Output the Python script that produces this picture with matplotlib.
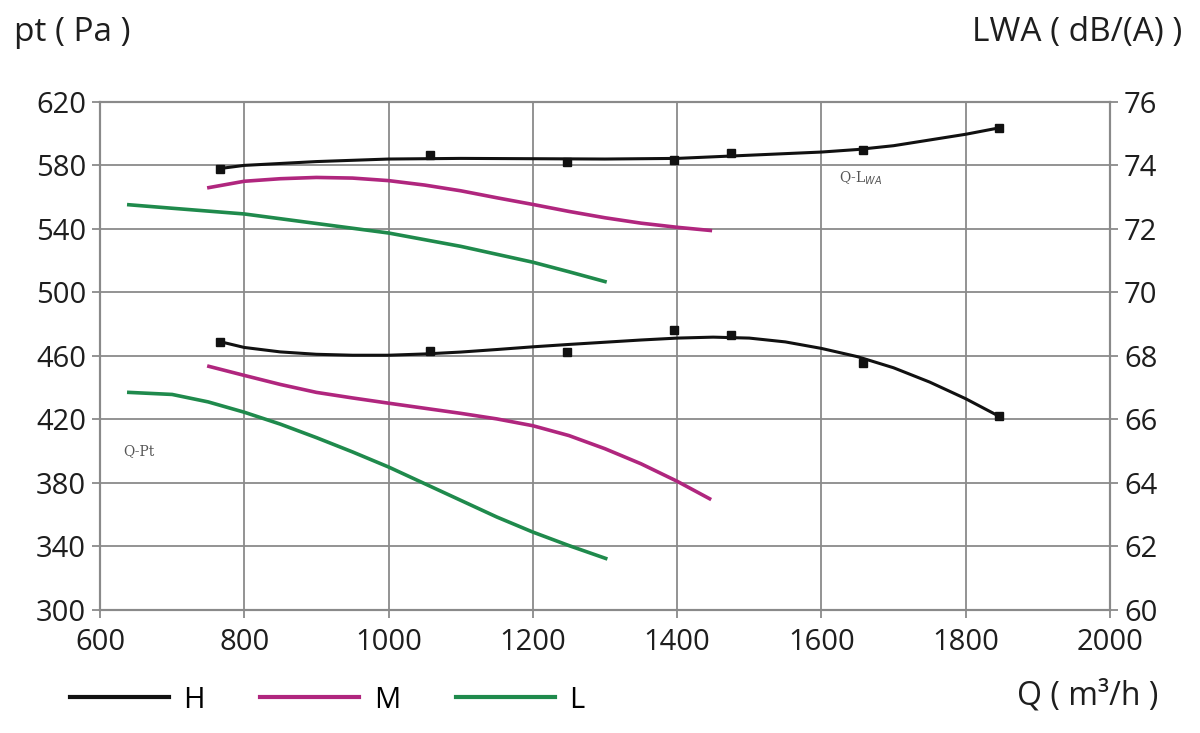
import matplotlib
matplotlib.use("Agg")
import matplotlib.pyplot as plt
from matplotlib.lines import Line2D

plt.rcParams['font.family'] = ['Open Sans', 'DejaVu Sans']

# pressure curves, Q (m3/h) vs pt (Pa)
q_pt_H = [766, 800, 850, 900, 950, 1000, 1050, 1100, 1150, 1200, 1250, 1300, 1350, 1400,
          1450, 1500, 1550, 1600, 1650, 1700, 1750, 1800, 1846]
pt_H = [469, 465.3, 462.5, 461, 460.4, 460.4, 461.2, 462.4, 464, 465.7, 467.2, 468.6, 470, 471.2,
        471.8, 471.2, 468.8, 464.7, 459.5, 452.5, 443.5, 433, 422]
q_pt_H_mark = [766, 1058, 1247, 1396, 1474, 1657, 1846]
pt_H_mark = [469, 463, 462.5, 476, 473, 455.5, 422]

q_pt_M = [751, 800, 850, 900, 950, 1000, 1050, 1100, 1150, 1200, 1250, 1300, 1350, 1400, 1445]
pt_M = [453.4, 447.7, 442, 437, 433.5, 430.2, 427, 423.8, 420.3, 416, 409.8, 401.5, 392, 381, 370]

q_pt_L = [640, 700, 750, 800, 850, 900, 950, 1000, 1050, 1100, 1150, 1200, 1250, 1301]
pt_L = [437, 435.7, 431, 424.5, 417, 408.5, 399.5, 390, 379.5, 369, 358.5, 349, 340.5, 332.4]

# noise curves, Q (m3/h) vs LWA dB(A)
q_lw_H = [766, 800, 900, 1000, 1100, 1200, 1300, 1400, 1500, 1600, 1650, 1700, 1750, 1800, 1846]
lw_H = [73.9, 74.0, 74.12, 74.2, 74.22, 74.21, 74.2, 74.22, 74.32, 74.42, 74.5, 74.62, 74.8, 74.98, 75.18]
q_lw_H_mark = [766, 1058, 1247, 1396, 1474, 1657, 1846]
lw_H_mark = [73.9, 74.34, 74.1, 74.18, 74.39, 74.5, 75.18]

q_lw_M = [751, 800, 850, 900, 950, 1000, 1050, 1100, 1150, 1200, 1250, 1300, 1350, 1400, 1446]
lw_M = [73.3, 73.5, 73.58, 73.62, 73.6, 73.52, 73.38, 73.2, 72.98, 72.77, 72.55, 72.35, 72.18, 72.05, 71.95]

q_lw_L = [640, 700, 800, 900, 1000, 1100, 1200, 1250, 1300]
lw_L = [72.76, 72.65, 72.47, 72.17, 71.87, 71.45, 70.95, 70.65, 70.34]

pt_ticks = [300, 340, 380, 420, 460, 500, 540, 580, 620]
lw_ticks = [60, 62, 64, 66, 68, 70, 72, 74, 76]
q_ticks = [600, 800, 1000, 1200, 1400, 1600, 1800, 2000]

c_H = "#111111"
c_M = "#b0267e"
c_L = "#1f8a4c"
grid_c = "#8a8a8a"
txt_c = "#1e1e1e"

fig = plt.figure(figsize=(12, 7.33), dpi=100)
ax = fig.add_axes([0.0833, 0.168, 0.8417, 0.693])
ax2 = ax.twinx()

ax.set_xlim(600, 2000)
ax.set_ylim(300, 620)
ax2.set_ylim(60, 76)
ax.set_xticks(q_ticks)
ax.set_yticks(pt_ticks)
ax2.set_yticks(lw_ticks)

ax.grid(True, color=grid_c, lw=1.3)
ax.set_axisbelow(True)
for a in (ax, ax2):
    for s in a.spines.values():
        s.set_color(grid_c)
        s.set_linewidth(1.5)
    a.tick_params(labelsize=21, colors=grid_c, labelcolor=txt_c, length=6, width=1.3, pad=4)
ax.tick_params(axis="x", pad=7)

ax.plot(q_pt_H, pt_H, color=c_H, lw=2.2)
ax.plot(q_pt_H_mark, pt_H_mark, ls="none", marker="s", ms=6, color=c_H)
ax.plot(q_pt_M, pt_M, color=c_M, lw=2.6)
ax.plot(q_pt_L, pt_L, color=c_L, lw=2.6)

ax2.plot(q_lw_H, lw_H, color=c_H, lw=2.2)
ax2.plot(q_lw_H_mark, lw_H_mark, ls="none", marker="s", ms=6, color=c_H)
ax2.plot(q_lw_M, lw_M, color=c_M, lw=2.6)
ax2.plot(q_lw_L, lw_L, color=c_L, lw=2.6)

ax.text(632, 400, "Q-Pt", fontsize=10, color="#555555", family="DejaVu Serif", va="center")
ax2.text(1625, 73.6, r"Q-L$_{WA}$", fontsize=10, color="#555555", family="DejaVu Serif", va="center")

fig.text(0.012, 0.955, "pt ( Pa )", fontsize=24, color=txt_c, va="center")
fig.text(0.985, 0.955, "LWA ( dB/(A) )", fontsize=24, color=txt_c, va="center", ha="right")
fig.text(0.965, 0.05, "Q ( m\u00b3/h )", fontsize=23, color=txt_c, va="center", ha="right")

handles = [Line2D([], [], color=c_H, lw=3), Line2D([], [], color=c_M, lw=3), Line2D([], [], color=c_L, lw=3)]
fig.legend(handles, ["H", "M", "L"], loc="center left", bbox_to_anchor=(0.058, 0.045),
           ncol=3, frameon=False, fontsize=21, handlelength=3.4, columnspacing=1.9,
           handletextpad=0.5, borderpad=0, borderaxespad=0)

fig.savefig("out.png", dpi=100)
